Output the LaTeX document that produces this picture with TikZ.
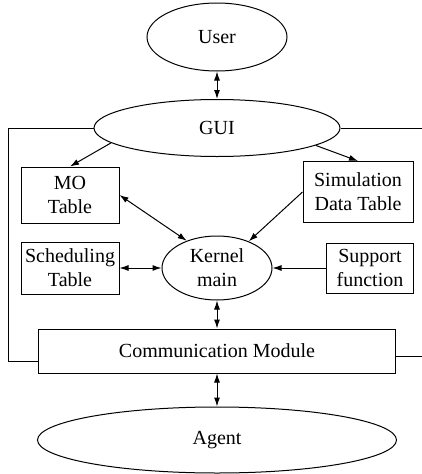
\documentclass[tikz,border=0pt]{standalone}
\usepackage{fontspec}
\setmainfont{Liberation Serif}
\usetikzlibrary{shapes.geometric,arrows.meta}

\begin{document}
\begin{tikzpicture}[x=1pt,y=-1pt,line width=1pt,
	every node/.style={font=\fontsize{20}{24}\selectfont},
	oval/.style={draw,ellipse,inner sep=0pt,align=center},
	box/.style={draw,rectangle,inner sep=1pt,align=center},
	tip/.style={-{Latex[length=9pt,width=6pt]}},
	twotip/.style={{Latex[length=9pt,width=6pt]}-{Latex[length=9pt,width=6pt]}}]
	\useasboundingbox (0,0) rectangle (422,474);
	\coordinate (redge) at (422,0);
	
	\node[oval,minimum width=140pt,minimum height=68pt] (user) at (217,37) {User};
	\node[oval,minimum width=246pt,minimum height=57pt] (gui) at (217,128) {GUI};
	\node[box,minimum width=98pt,minimum height=56pt] (mo) at (70,195) {MO\\Table};
	\node[box,minimum width=110pt,minimum height=61pt] (sim) at (358,192) {Simulation\\Data Table};
	\node[oval,minimum width=110pt,minimum height=64pt] (kernel) at (217,268) {Kernel\\main};
	\node[box,minimum width=98pt,minimum height=52pt] (sched) at (70,268) {Scheduling\\Table};
	\node[box,minimum width=87pt,minimum height=50pt] (support) at (370,268) {Support\\function};
	\node[box,minimum width=357pt,minimum height=44pt] (comm) at (217,351) {Communication Module};
	\node[oval,minimum width=359pt,minimum height=66pt] (agent) at (217,440) {Agent};
	
	\draw[twotip] (user) -- (gui);
	\draw[tip] (gui.188) -- (mo.north);
	\draw[tip] (gui.350) -- (sim.north);
	\draw[twotip] (mo.east) -- (kernel.138);
	\draw[tip] (sim.west) -- (kernel.40);
	\draw[twotip] (sched) -- (kernel);
	\draw[tip] (support) -- (kernel);
	\draw[twotip] (kernel) -- (comm);
	\draw[twotip] (comm) -- (agent);
	
	\draw (gui.west) -- ++(-85,0) |- ([yshift=-10pt]comm.west);
	\draw (gui.east) -- (gui.east -| redge);
	\draw ([yshift=-5pt]comm.east) -- ([yshift=-5pt]comm.east -| redge);
\end{tikzpicture}
\end{document}
